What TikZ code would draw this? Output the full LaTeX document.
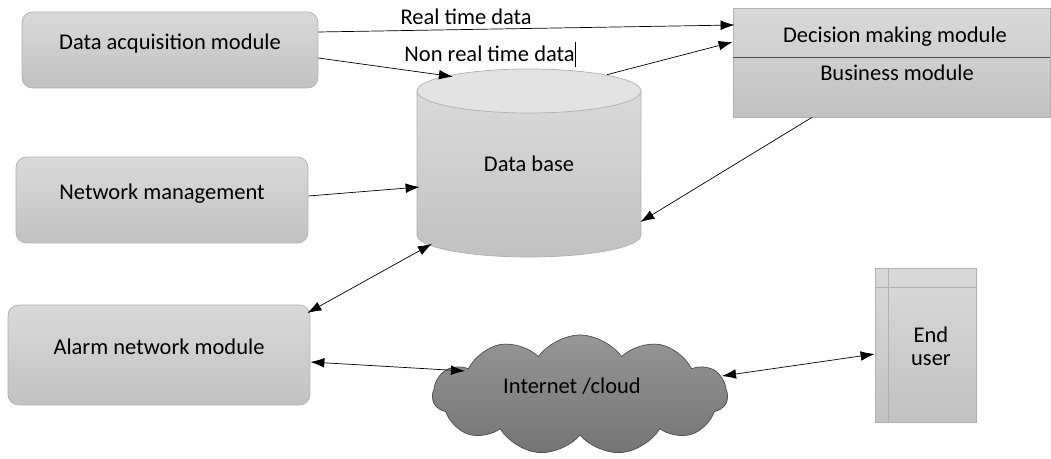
\documentclass[tikz,border=0pt]{standalone}
\usepackage{fontspec}
\setmainfont{Carlito}
\usetikzlibrary{positioning,arrows.meta,shapes.symbols,calc}

\definecolor{boxtop}{HTML}{D9D9D9}
\definecolor{boxbot}{HTML}{C2C2C2}
\definecolor{boxline}{HTML}{B0B0B0}
\definecolor{cloudtop}{HTML}{969696}
\definecolor{cloudbot}{HTML}{747474}

\tikzset{
  modbox/.style={draw=boxline, rounded corners=6pt, top color=boxtop, bottom color=boxbot,
    text height=8pt, text depth=9pt},
  flatbox/.style={draw=boxline, top color=boxtop, bottom color=boxbot},
  link/.style={-{Latex[length=8pt,width=5.5pt]}},
  twoway/.style={{Latex[length=8pt,width=5.5pt]}-{Latex[length=8pt,width=5.5pt]}},
}

\begin{document}
\begin{tikzpicture}[x=0.02cm,y=-0.02cm,font=\fontsize{12.8}{15}\selectfont]
  \useasboundingbox (0,0) rectangle (1051,459);

  % left column
  \node[modbox,minimum width=5.92cm,minimum height=1.52cm] (acq) at (170,50) {Data acquisition module};
  \node[modbox,minimum width=5.84cm,minimum height=1.72cm] (net) at (162,200) {Network management};
  \node[modbox,minimum width=6.04cm,minimum height=2.0cm] (alarm) at (159,355) {Alarm network module};

  % decision / business
  \node[flatbox,minimum width=6.34cm,minimum height=2.18cm] (dec) at (891.5,62.5) {};
  \draw[black!70] (dec.west |- 0,57) -- (dec.east |- 0,57);
  \node (decm) at (895,37) {Decision making module};
  \node (bus) at (897,73) {Business module};

  % data base cylinder
  \shade[top color=boxtop,bottom color=boxbot,draw=boxline]
    (417,91) -- (417,235) arc[start angle=180,end angle=360,x radius=2.24cm,y radius=0.44cm] -- (641,91);
  \draw[boxline,fill=black!11] (529,91) ellipse [x radius=2.24cm,y radius=0.44cm];
  \node[minimum width=4.48cm,minimum height=3.74cm] (db) at (529,164) {Data base};

  % cloud
  \node[cloud,cloud puffs=11,cloud puff arc=110,aspect=2.4,draw=black!70,
    top color=cloudtop,bottom color=cloudbot,minimum width=5.9cm,minimum height=2.4cm] (web) at (580,395) {};
  \node (webtxt) at (572,386) {Internet /cloud};

  % end user
  \node[flatbox,minimum width=2.02cm,minimum height=3.08cm,align=center,
    path picture={
      \draw[boxline] ([xshift=0.26cm]path picture bounding box.north west) -- ([xshift=0.26cm]path picture bounding box.south west);
      \draw[boxline] ([yshift=-0.38cm]path picture bounding box.north west) -- ([yshift=-0.38cm]path picture bounding box.north east);
    }] (user) at (925.5,345) {};
  \node[align=center,font=\fontsize{12.8}{13}\selectfont] (usertxt) at (931,346) {End\\user};

  % connectors
  \draw[link] ($(acq.east)+(0,-18)$) -- node[pos=0.355,yshift=0.26cm] {Real time data} ($(dec.west)+(2,-37.5)$);
  \draw[link] ($(acq.east)+(0,8)$) -- node[pos=1,xshift=0.74cm,yshift=0.44cm] {Non real time data\rule[-3pt]{0.5pt}{14pt}} ($(db.north)+(-76,6.5)$);
  \draw[link] ($(db.north)+(78,4.5)$) -- ($(dec.west)+(0,-20.5)$);
  \draw[link] ($(dec.south)+(-79.5,0)$) -- ($(db.east)+(-1,58)$);
  \draw[link] ($(net.east)+(0,-4)$) -- ($(db.west)+(3,23)$);
  \draw[twoway] ($(alarm.east)+(-3,-42)$) -- ($(db.south)+(-97,-14)$);
  \draw[twoway] ($(alarm.east)+(0,7)$) -- ($(web.center)+(-115,-24)$);
  \draw[twoway] ($(web.center)+(142,-19)$) -- ($(user.west)+(0,9)$);
\end{tikzpicture}
\end{document}
